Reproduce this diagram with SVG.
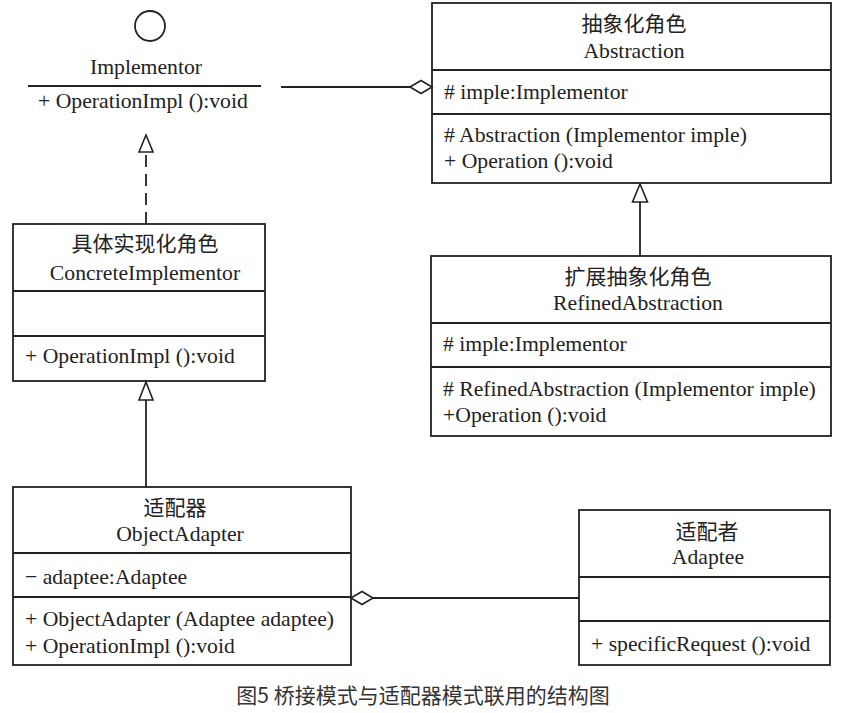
<svg xmlns="http://www.w3.org/2000/svg" width="841" height="713" viewBox="0 0 841 713">
<defs>
<style>
.box{fill:#fff;stroke:#222;stroke-width:1.8}
.ln{stroke:#222;stroke-width:1.8;fill:none}
.head{fill:#fff;stroke:#222;stroke-width:1.6}
.t{font-family:"Liberation Serif","Times New Roman",serif;font-size:21.7px;fill:#222}
.c{text-anchor:middle}
.cn{font-family:"Noto Sans CJK SC",sans-serif;font-size:21px;fill:#222;text-anchor:middle}
.cap{font-family:"Noto Sans CJK SC",sans-serif;font-size:21px;fill:#333;text-anchor:middle}
</style>
</defs>
<rect width="841" height="713" fill="#fff"/>

<g id="implementor">
<circle cx="150" cy="26" r="15" class="ln"/>
<text x="146" y="74" class="t c">Implementor</text>
<line x1="28" y1="86" x2="261" y2="86" class="ln"/>
<text x="38" y="108" class="t">+ OperationImpl ():void</text>
</g>

<g id="abstraction">
<rect x="432" y="3" width="399" height="180" class="box"/>
<line x1="432" y1="70" x2="831" y2="70" class="ln"/>
<line x1="432" y1="114" x2="831" y2="114" class="ln"/>
<text x="634" y="31" class="cn">抽象化角色</text>
<text x="634" y="58" class="t c">Abstraction</text>
<text x="444" y="99" class="t"># imple:Implementor</text>
<text x="444" y="142" class="t"># Abstraction (Implementor imple)</text>
<text x="444" y="168" class="t">+ Operation ():void</text>
</g>

<g id="refinedAbstraction">
<rect x="431" y="256" width="400" height="180" class="box"/>
<line x1="431" y1="323" x2="831" y2="323" class="ln"/>
<line x1="431" y1="367" x2="831" y2="367" class="ln"/>
<text x="638" y="284" class="cn">扩展抽象化角色</text>
<text x="638" y="310" class="t c">RefinedAbstraction</text>
<text x="443" y="351" class="t"># imple:Implementor</text>
<text x="443" y="396" class="t"># RefinedAbstraction (Implementor imple)</text>
<text x="443" y="422" class="t">+Operation ():void</text>
</g>

<g id="concreteImplementor">
<rect x="13" y="224" width="252" height="157" class="box"/>
<line x1="13" y1="291" x2="265" y2="291" class="ln"/>
<line x1="13" y1="336" x2="265" y2="336" class="ln"/>
<text x="145" y="251" class="cn">具体实现化角色</text>
<text x="145" y="280" class="t c">ConcreteImplementor</text>
<text x="25" y="363" class="t">+ OperationImpl ():void</text>
</g>

<g id="objectAdapter">
<rect x="13" y="487" width="338" height="178" class="box"/>
<line x1="13" y1="553" x2="351" y2="553" class="ln"/>
<line x1="13" y1="597" x2="351" y2="597" class="ln"/>
<text x="175" y="515" class="cn">适配器</text>
<text x="180" y="541" class="t c">ObjectAdapter</text>
<text x="25" y="584" class="t">− adaptee:Adaptee</text>
<text x="25" y="626" class="t">+ ObjectAdapter (Adaptee adaptee)</text>
<text x="25" y="653" class="t">+ OperationImpl ():void</text>
</g>

<g id="adaptee">
<rect x="579" y="510" width="251" height="155" class="box"/>
<line x1="579" y1="577" x2="830" y2="577" class="ln"/>
<line x1="579" y1="621" x2="830" y2="621" class="ln"/>
<text x="707" y="539" class="cn">适配者</text>
<text x="708" y="564" class="t c">Adaptee</text>
<text x="591" y="651" class="t">+ specificRequest ():void</text>
</g>

<g id="connectors">
<line x1="146" y1="224" x2="146" y2="152" class="ln" stroke-dasharray="12,7"/>
<path d="M146,135 L153,152 L139,152 Z" class="head"/>
<line x1="640" y1="256" x2="640" y2="202" class="ln"/>
<path d="M640,184 L647.5,202 L632.5,202 Z" class="head"/>
<line x1="146" y1="487" x2="146" y2="400" class="ln"/>
<path d="M146,382 L153,400 L139,400 Z" class="head"/>
<line x1="281" y1="87" x2="410" y2="87" class="ln"/>
<path d="M410,87 L421,80.5 L432,87 L421,93.5 Z" class="head"/>
<line x1="373" y1="598" x2="579" y2="598" class="ln"/>
<path d="M351,598 L362,591.5 L373,598 L362,604.5 Z" class="head"/>
</g>

<text x="423" y="703" class="cap">图5 桥接模式与适配器模式联用的结构图</text>
</svg>
